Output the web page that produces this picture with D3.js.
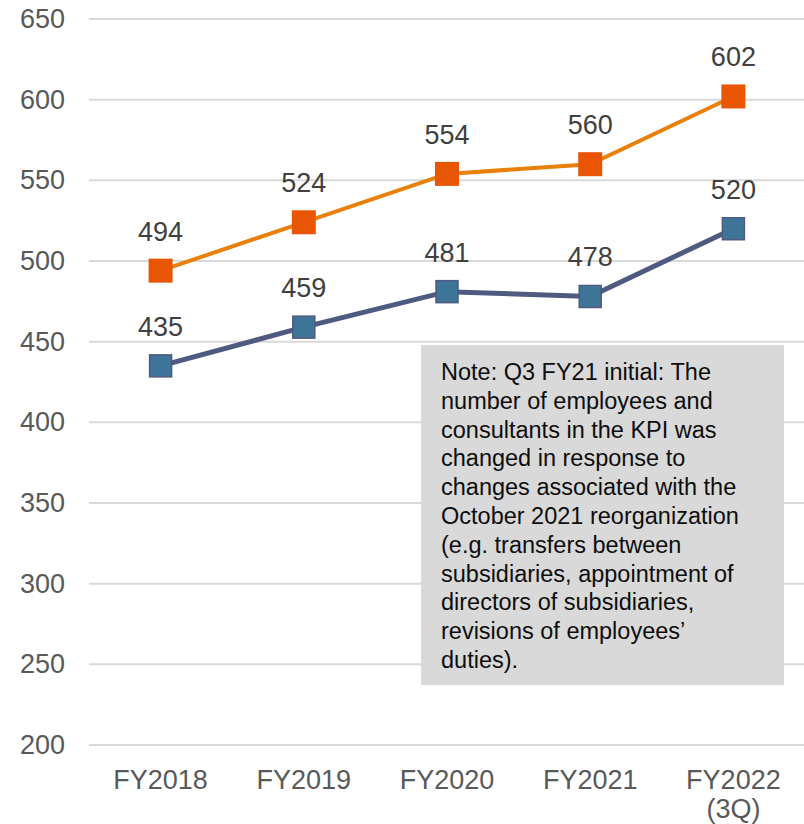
<!DOCTYPE html>
<html>
<head>
<meta charset="utf-8">
<script src="https://cdn.jsdelivr.net/npm/d3@7"></script>
<style>
  body { margin: 0; background: #fff; }
  svg { display: block; font-family: 'Liberation Sans', Arial, sans-serif; }
</style>
</head>
<body>
<svg id="chart"></svg>
<script>
const years = ['FY2018', 'FY2019', 'FY2020', 'FY2021', 'FY2022\n(3Q)']
const consultants = [494, 524, 554, 560, 602]
const employees = [435, 459, 481, 478, 520]
const yTicks = [200, 250, 300, 350, 400, 450, 500, 550, 600, 650]
const noteLines = [
  'Note: Q3 FY21 initial: The',
  'number of employees and',
  'consultants in the KPI was',
  'changed in response to',
  'changes associated with the',
  'October 2021 reorganization',
  '(e.g. transfers between',
  'subsidiaries, appointment of',
  'directors of subsidiaries,',
  'revisions of employees\u2019',
  'duties).'
]

const width = 804
const height = 824
const svg = d3.select('#chart').attr('width', width).attr('height', height)

const x = d3.scaleBand().domain(years).range([89, 805])
const y = d3.scaleLinear().domain([200, 650]).range([745, 19])
const cx = d => x(d) + x.bandwidth() / 2

// gridlines
svg.append('g').attr('class', 'grid')
  .selectAll('line')
  .data(yTicks)
  .join('line')
  .attr('x1', 89)
  .attr('x2', width)
  .attr('y1', d => y(d))
  .attr('y2', d => y(d))
  .attr('stroke', '#d9d9d9')
  .attr('stroke-width', 2)

// y tick labels
svg.append('g').attr('class', 'y-labels')
  .selectAll('text')
  .data(yTicks)
  .join('text')
  .attr('x', 65)
  .attr('y', d => y(d))
  .attr('text-anchor', 'end')
  .attr('dominant-baseline', 'central')
  .attr('font-size', 27)
  .attr('fill', '#595959')
  .text(d => d)

// x labels
const xl = svg.append('g').attr('class', 'x-labels')
years.forEach(yr => {
  const t = xl.append('text')
    .attr('x', cx(yr))
    .attr('y', 789)
    .attr('text-anchor', 'middle')
    .attr('font-size', 27)
    .attr('fill', '#595959')
  yr.split('\n').forEach((part, i) => {
    t.append('tspan').attr('x', cx(yr)).attr('dy', i === 0 ? 0 : 29).text(part)
  })
})

// note box
const note = svg.append('g').attr('class', 'note')
note.append('rect')
  .attr('x', 421).attr('y', 345)
  .attr('width', 363).attr('height', 340)
  .attr('fill', '#d9d9d9')
note.selectAll('text')
  .data(noteLines)
  .join('text')
  .attr('x', 441)
  .attr('y', (d, i) => 380 + i * 28.8)
  .attr('font-size', 23.5)
  .attr('fill', '#0d0d0d')
  .text(d => d)

function drawSeries(values, lineColor, lineWidth, fill, stroke, size, cls) {
  const g = svg.append('g').attr('class', cls)
  const line = d3.line().x((d, i) => cx(years[i])).y(d => y(d))
  g.append('path')
    .attr('d', line(values))
    .attr('fill', 'none')
    .attr('stroke', lineColor)
    .attr('stroke-width', lineWidth)
  g.selectAll('rect')
    .data(values)
    .join('rect')
    .attr('x', (d, i) => cx(years[i]) - size / 2)
    .attr('y', d => y(d) - size / 2)
    .attr('width', size)
    .attr('height', size)
    .attr('fill', fill)
    .attr('stroke', stroke)
    .attr('stroke-width', stroke === 'none' ? 0 : 1.5)
  g.selectAll('text')
    .data(values)
    .join('text')
    .attr('x', (d, i) => cx(years[i]))
    .attr('y', d => y(d) - 39)
    .attr('text-anchor', 'middle')
    .attr('dominant-baseline', 'central')
    .attr('font-size', 27)
    .attr('fill', '#404040')
    .text(d => d)
}

drawSeries(employees, '#4f5a80', 5, '#3e7498', '#4f5a80', 22, 'employees')
drawSeries(consultants, '#e8800a', 4, '#ea5504', 'none', 24, 'consultants')
</script>
</body>
</html>
